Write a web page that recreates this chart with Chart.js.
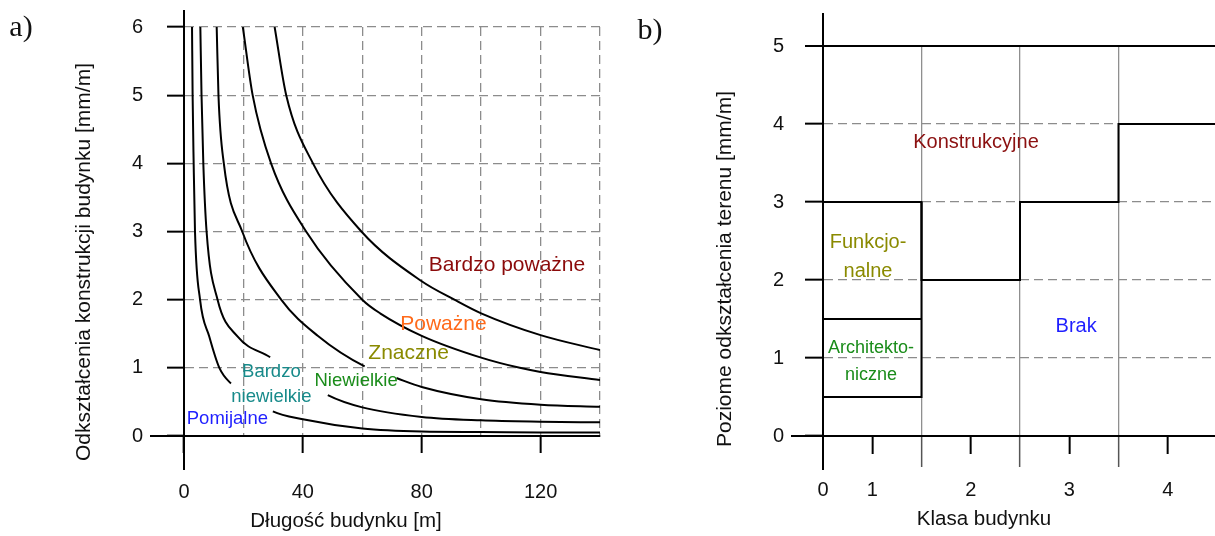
<!DOCTYPE html>
<html lang="pl">
<head>
<meta charset="utf-8">
<title>Kategorie uszkodzeń budynków</title>
<script src="https://cdn.jsdelivr.net/npm/chart.js@4/dist/chart.umd.min.js"></script>
<style>
  html, body { margin: 0; padding: 0; background: #fff; overflow: hidden; }
  #wrap { position: relative; width: 1215px; height: 536px; overflow: hidden; }
  #chartA { position: absolute; left: 0; top: 0; }
  #chartB { position: absolute; left: 615px; top: 0; }
</style>
</head>
<body>
<div id="wrap">
  <canvas id="chartA" width="615" height="536"></canvas>
  <canvas id="chartB" width="602" height="536"></canvas>
</div>
<script>
/* ---------------- a) building length vs strain: category limits ---------------- */
const lengthTicks = [0, 20, 40, 60, 80, 100, 120, 140];
const lengthTickLabels = ['0', '', '40', '', '80', '', '120', ''];
const strainTicks = [0, 1, 2, 3, 4, 5, 6];
const strainTickLabels = ['0', '1', '2', '3', '4', '5', '6'];

// upper limit of "Pomijalne"
const limPomijalneX = [2.7, 2.9, 3.25, 3.7, 5.4, 8.5, 11.9, 15.8, 29.9, 40, 60, 80, 100, 120, 140];
const limPomijalneY = [6.0, 5.0, 4.0, 3.0, 2.0, 1.46, 1.0, 0.77, 0.36, 0.245, 0.11, 0.065, 0.058, 0.052, 0.05];
// upper limit of "Bardzo niewielkie"
const limBNiewielkieX = [5.5, 5.9, 6.5, 7.6, 11.3, 18, 29, 48.4, 60, 80, 100, 120, 140];
const limBNiewielkieY = [6.0, 5.0, 4.0, 3.0, 2.0, 1.46, 1.155, 0.60, 0.42, 0.28, 0.23, 0.21, 0.2];
// upper limit of "Niewielkie"
const limNiewielkieX = [11.0, 11.6, 13.4, 19.6, 32.7, 45, 60.8, 71.5, 80, 100, 120, 140];
const limNiewielkieY = [6.0, 5.0, 4.0, 3.0, 2.0, 1.47, 1.02, 0.85, 0.72, 0.54, 0.46, 0.43];
// upper limit of "Znaczne"
const limZnaczneX = [19.8, 23.1, 29.3, 41.1, 60, 66, 80, 100, 113, 120, 140];
const limZnaczneY = [6.0, 5.0, 4.0, 3.0, 2.0, 1.8, 1.47, 1.15, 1.0, 0.94, 0.82];
// upper limit of "Poważne"
const limPowazneX = [30.5, 34.4, 43.4, 59.7, 80, 91, 100, 120, 140];
const limPowazneY = [6.0, 5.0, 4.0, 3.0, 2.27, 2.0, 1.80, 1.48, 1.26];

/* ---------------- b) building class vs ground strain ---------------- */
const classTicks = [0.5, 1, 1.5, 2, 2.5, 3, 3.5, 4, 4.5];
const classTickLabels = ['0', '1', '', '2', '', '3', '', '4', ''];
const classEdges = [0.5, 1.5, 2.5, 3.5, 4.5];
const groundTicks = [0, 1, 2, 3, 4, 5];
const groundTickLabels = ['0', '1', '2', '3', '4', '5'];
const konstrukcyjneFrom = [3, 2, 3, 4];   // classes 1..4
const funkcjonalneFrom = [1.5];           // class 1
const architektoniczneFrom = [0.5];       // class 1

/* ---------------- shared look ---------------- */
const SANS = "'Liberation Sans', Arial, sans-serif";
const SERIF = "'Liberation Serif', 'Times New Roman', serif";
const GRID = '#8c8c8c';
const NONE = 'rgba(0,0,0,0)';
Chart.defaults.font.family = SANS;
Chart.defaults.font.size = 20;
Chart.defaults.color = '#111';

// keep the plot area where the layout padding puts it
const noScalePadding = s => {
    s.paddingTop = 0;
    s.paddingBottom = 0;
    s.paddingLeft = 0;
    s.paddingRight = 0;
};

const axisExtension = {
    id: 'axisExtension',
    beforeDatasetsDraw(chart, args, opts) {
        const { ctx, chartArea: a } = chart;
        ctx.save();
        ctx.strokeStyle = '#000';
        ctx.lineWidth = 2;
        ctx.beginPath();
        ctx.moveTo(a.left, a.top - opts.top);
        ctx.lineTo(a.left, a.bottom + opts.bottom);
        ctx.moveTo(a.left - opts.left, a.bottom);
        ctx.lineTo(a.left, a.bottom);
        ctx.stroke();
        ctx.restore();
    }
};

const panelText = {
    id: 'panelText',
    afterDraw(chart, args, opts) {
        const { ctx, scales } = chart;
        ctx.save();
        ctx.textAlign = 'center';
        ctx.textBaseline = 'middle';
        for (const item of opts.items) {
            const size = item.size || 20;
            ctx.font = `${size}px ${item.family || SANS}`;
            ctx.fillStyle = item.color || '#111';
            const px = item.inData ? scales.x.getPixelForValue(item.x) : item.x;
            const py = item.inData ? scales.y.getPixelForValue(item.y) : item.y;
            const lines = [].concat(item.text);
            const lh = item.lineHeight || size * 1.25;
            ctx.save();
            ctx.translate(px, py);
            if (item.rotate) ctx.rotate(item.rotate);
            lines.forEach((line, i) => ctx.fillText(line, 0, (i - (lines.length - 1) / 2) * lh));
            ctx.restore();
        }
        ctx.restore();
    }
};

/* ---------------- chart a ---------------- */
const curvesA = [
    { name: 'Pomijalne', x: limPomijalneX, y: limPomijalneY },
    { name: 'Bardzo niewielkie', x: limBNiewielkieX, y: limBNiewielkieY },
    { name: 'Niewielkie', x: limNiewielkieX, y: limNiewielkieY },
    { name: 'Znaczne', x: limZnaczneX, y: limZnaczneY },
    { name: 'Poważne', x: limPowazneX, y: limPowazneY }
];
// segments hidden behind the zone labels (index of segment start point)
const hiddenUnderLabels = [[7], [6], [6], [], []];

new Chart(document.getElementById('chartA'), {
    type: 'line',
    data: {
        datasets: curvesA.map((c, k) => ({
            label: c.name,
            data: c.x.map((v, i) => ({ x: v, y: c.y[i] })),
            borderColor: '#000',
            borderWidth: 2,
            pointRadius: 0,
            fill: false,
            cubicInterpolationMode: 'monotone',
            segment: {
                borderColor: s => hiddenUnderLabels[k].includes(s.p0DataIndex) ? NONE : '#000'
            }
        }))
    },
    options: {
        responsive: false,
        animation: false,
        layout: { padding: { top: 27, right: 15, left: 0, bottom: 0 } },
        plugins: {
            legend: { display: false },
            tooltip: { enabled: false },
            axisExtension: { top: 17, bottom: 34, left: 34 },
            panelText: {
                items: [
                    { text: 'a)', x: 21, y: 28, size: 30, family: SERIF },
                    { text: 'Odkształcenia konstrukcji budynku [mm/m]', x: 84, y: 262, rotate: -Math.PI / 2, size: 21 },
                    { text: 'Długość budynku [m]', x: 346, y: 521, size: 20.5 },
                    { text: 'Bardzo poważne', inData: true, x: 108.7, y: 2.51, color: '#8b0a0a', size: 21 },
                    { text: 'Poważne', inData: true, x: 87.3, y: 1.64, color: '#ff6a1a', size: 21 },
                    { text: 'Znaczne', inData: true, x: 75.6, y: 1.22, color: '#8a8a00', size: 21 },
                    { text: 'Niewielkie', inData: true, x: 57.9, y: 0.81, color: '#1a8c1a', size: 18.5 },
                    { text: ['Bardzo', 'niewielkie'], inData: true, x: 29.4, y: 0.76, color: '#178a8a', size: 18.5, lineHeight: 25.5 },
                    { text: 'Pomijalne', inData: true, x: 14.6, y: 0.25, color: '#1f1fff', size: 18.5 }
                ]
            }
        },
        scales: {
            x: {
                type: 'linear',
                min: 0,
                max: 140,
                afterBuildTicks: s => { s.ticks = lengthTicks.map(v => ({ value: v })); },
                afterFit: s => { s.height = 100; noScalePadding(s); },
                ticks: {
                    autoSkip: false,
                    maxRotation: 0,
                    padding: 27,
                    callback: (v, i) => lengthTickLabels[i]
                },
                grid: {
                    color: GRID,
                    lineWidth: 1.3,
                    tickLength: 17,
                    tickWidth: 2,
                    tickColor: c => (c.tick && c.tick.value % 40 === 0) ? '#000' : NONE
                },
                border: { display: true, color: '#000', width: 2, dash: [9, 5] }
            },
            y: {
                type: 'linear',
                min: 0,
                max: 6,
                afterBuildTicks: s => { s.ticks = strainTicks.map(v => ({ value: v })); },
                afterFit: s => { s.width = 184; noScalePadding(s); },
                ticks: {
                    autoSkip: false,
                    padding: 24,
                    callback: (v, i) => strainTickLabels[i]
                },
                grid: {
                    color: GRID,
                    lineWidth: 1.3,
                    tickLength: 17,
                    tickWidth: 2,
                    tickColor: '#000'
                },
                border: { display: true, color: '#000', width: 2, dash: [9, 5] }
            }
        }
    },
    plugins: [axisExtension, panelText]
});

/* ---------------- chart b ---------------- */
const konstrukcyjneLine = [];
konstrukcyjneFrom.forEach((v, i) => {
    konstrukcyjneLine.push({ x: classEdges[i], y: v }, { x: classEdges[i + 1], y: v });
});
const funkcjonalneLine = funkcjonalneFrom.flatMap((v, i) => [
    { x: classEdges[i], y: v }, { x: classEdges[i + 1], y: v }
]);
const architektoniczneLine = architektoniczneFrom.flatMap((v, i) => [
    { x: classEdges[i], y: v }, { x: classEdges[i + 1], y: v }, { x: classEdges[i + 1], y: konstrukcyjneFrom[i] }
]);

const isHalf = v => v > 0.5 && v < 4.5 && !Number.isInteger(v);

new Chart(document.getElementById('chartB'), {
    type: 'line',
    data: {
        datasets: [
            { label: 'Konstrukcyjne', data: konstrukcyjneLine },
            { label: 'Funkcjonalne', data: funkcjonalneLine },
            { label: 'Architektoniczne', data: architektoniczneLine }
        ].map(d => Object.assign(d, {
            borderColor: '#000',
            borderWidth: 2,
            pointRadius: 0,
            fill: false,
            tension: 0
        }))
    },
    options: {
        responsive: false,
        animation: false,
        layout: { padding: { top: 46, right: 0, left: 0, bottom: 0 } },
        plugins: {
            legend: { display: false },
            tooltip: { enabled: false },
            axisExtension: { top: 33, bottom: 34, left: 32 },
            panelText: {
                items: [
                    { text: 'b)', x: 35, y: 31, size: 30, family: SERIF },
                    { text: 'Poziome odkształcenia terenu [mm/m]', x: 110, y: 269, rotate: -Math.PI / 2, size: 21 },
                    { text: 'Klasa budynku', x: 369, y: 519, size: 20.5 },
                    { text: 'Konstrukcyjne', inData: true, x: 2.053, y: 3.76, color: '#8b1010' },
                    { text: ['Funkcjo-', 'nalne'], inData: true, x: 0.957, y: 2.295, color: '#8a8a00', lineHeight: 29 },
                    { text: ['Architekto-', 'niczne'], inData: true, x: 0.987, y: 0.96, color: '#1a8c1a', size: 18, lineHeight: 27 },
                    { text: 'Brak', inData: true, x: 3.07, y: 1.40, color: '#1f1fff' }
                ]
            }
        },
        scales: {
            x: {
                type: 'linear',
                min: 0.5,
                max: 4.5,
                afterBuildTicks: s => { s.ticks = classTicks.map(v => ({ value: v })); },
                afterFit: s => { s.height = 100; noScalePadding(s); },
                ticks: {
                    autoSkip: false,
                    maxRotation: 0,
                    padding: 11,
                    callback: (v, i) => classTickLabels[i]
                },
                grid: {
                    color: c => (c.tick && isHalf(c.tick.value)) ? '#8f8f8f' : NONE,
                    lineWidth: 1.3,
                    tickLength: 31,
                    tickWidth: c => (c.tick && Number.isInteger(c.tick.value)) ? 2 : 1.5,
                    tickColor: c => {
                        if (!c.tick) return NONE;
                        if (Number.isInteger(c.tick.value)) return '#000';
                        return isHalf(c.tick.value) ? '#555' : NONE;
                    },
                    tickBorderDash: c => (c.tick && Number.isInteger(c.tick.value)) ? [17, 100] : []
                },
                border: { display: true, color: '#000', width: 2 }
            },
            y: {
                type: 'linear',
                min: 0,
                max: 5,
                afterBuildTicks: s => { s.ticks = groundTicks.map(v => ({ value: v })); },
                afterFit: s => { s.width = 208; noScalePadding(s); },
                ticks: {
                    autoSkip: false,
                    padding: 21,
                    callback: (v, i) => groundTickLabels[i]
                },
                grid: {
                    color: c => (c.tick && c.tick.value === 5) ? '#000' : GRID,
                    lineWidth: c => (c.tick && c.tick.value === 5) ? 2 : 1.3,
                    tickLength: 18,
                    tickWidth: 2,
                    tickColor: '#000'
                },
                border: {
                    display: true,
                    color: '#000',
                    width: 2,
                    dash: c => (c.tick && c.tick.value === 5) ? [] : [9, 5]
                }
            }
        }
    },
    plugins: [axisExtension, panelText]
});
</script>
</body>
</html>
